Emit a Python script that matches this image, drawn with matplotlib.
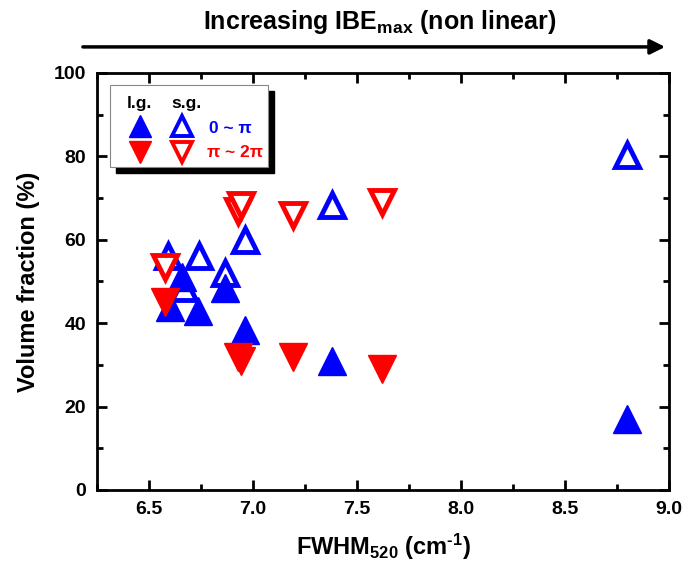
import matplotlib
matplotlib.use("Agg")
import matplotlib.pyplot as plt
from matplotlib.patches import Rectangle

plt.rcParams['font.family'] = ['Liberation Sans', 'DejaVu Sans']
plt.rcParams['font.weight'] = 'bold'
plt.rcParams['mathtext.fontset'] = 'custom'
plt.rcParams['mathtext.rm'] = 'Liberation Sans:bold'
plt.rcParams['mathtext.it'] = 'Liberation Sans:bold'
plt.rcParams['mathtext.bf'] = 'Liberation Sans:bold'
plt.rcParams['mathtext.default'] = 'rm'

# dati letti dal grafico
# blu, 0 ~ pi
lg_blu_x = [6.60, 6.66, 6.735, 6.865, 6.96, 7.38, 8.80]
lg_blu_y = [44.0, 51.0, 43.0, 48.4, 38.4, 31.0, 17.0]
sg_blu_x = [6.59, 6.67, 6.74, 6.865, 6.96, 7.38, 8.80]
sg_blu_y = [56.0, 48.5, 56.0, 52.0, 60.0, 68.3, 80.3]
# rosso, pi ~ 2pi
lg_rosso_x = [6.577, 6.93, 6.94, 7.19, 7.62]
lg_rosso_y = [45.0, 32.0, 31.0, 32.0, 29.0]
sg_rosso_x = [6.577, 6.93, 6.94, 7.19, 7.62]
sg_rosso_y = [53.5, 67.0, 68.3, 66.0, 69.0]

BLU = '#0000ff'
ROSSO = '#ff0000'

fig = plt.figure(figsize=(6.85, 5.72), dpi=100)
ax = fig.add_axes([0.1416, 0.1434, 0.8350, 0.7290])

# pieni (l.g.)
ax.plot(lg_blu_x, lg_blu_y, '^', ms=20, color=BLU, mec=BLU, ls='none', zorder=3)
ax.plot(lg_rosso_x, lg_rosso_y, 'v', ms=20, color=ROSSO, mec=ROSSO, ls='none', zorder=3)
# vuoti (s.g.)
ax.plot(sg_blu_x, sg_blu_y, '^', ms=17, mfc='white', mec=BLU, mew=3.5, ls='none', zorder=2)
ax.plot(sg_rosso_x, sg_rosso_y, 'v', ms=17, mfc='white', mec=ROSSO, mew=3.5, ls='none', zorder=2)

ax.set_xlim(6.25, 9.0)
ax.set_ylim(0, 100)
ax.set_xticks([6.5, 7.0, 7.5, 8.0, 8.5, 9.0])
ax.set_xticks([6.25, 6.75, 7.25, 7.75, 8.25, 8.75], minor=True)
ax.set_yticks([0, 20, 40, 60, 80, 100])
ax.set_yticks([10, 30, 50, 70, 90], minor=True)
ax.set_xticklabels(['6.5', '7.0', '7.5', '8.0', '8.5', '9.0'])
ax.tick_params(which='both', direction='in', top=True, right=True, width=2, labelsize=14, pad=8)
ax.tick_params(which='major', length=7)
ax.tick_params(which='minor', length=4)
for s in ax.spines.values():
    s.set_linewidth(2)

ax.set_xlabel('FWHM$_{520}$ (cm$^{\\text{-}1}$)', fontsize=17, fontweight='bold', labelpad=10)
ax.set_ylabel('Volume fraction (%)', fontsize=17, fontweight='bold', labelpad=10)

# legenda fatta a mano
ombra = Rectangle((0.034, 0.760), 0.276, 0.197, transform=ax.transAxes,
                  facecolor='black', edgecolor='black', zorder=4)
box = Rectangle((0.0227, 0.775), 0.276, 0.197, transform=ax.transAxes,
                facecolor='white', edgecolor='#888888', lw=0.8, zorder=5)
ax.add_patch(ombra)
ax.add_patch(box)
ax.text(0.075, 0.928, 'l.g.', transform=ax.transAxes, ha='center', va='center',
        fontsize=12.5, fontweight='bold', zorder=6)
ax.text(0.157, 0.928, 's.g.', transform=ax.transAxes, ha='center', va='center',
        fontsize=12.5, fontweight='bold', zorder=6)
ax.plot([0.075], [0.873], '^', ms=16, color=BLU, transform=ax.transAxes, zorder=6, clip_on=False)
ax.plot([0.149], [0.873], '^', ms=14, mfc='white', mec=BLU, mew=2.8, transform=ax.transAxes, zorder=6, clip_on=False)
ax.plot([0.075], [0.81], 'v', ms=16, color=ROSSO, transform=ax.transAxes, zorder=6, clip_on=False)
ax.plot([0.149], [0.81], 'v', ms=14, mfc='white', mec=ROSSO, mew=2.8, transform=ax.transAxes, zorder=6, clip_on=False)
ax.text(0.196, 0.868, '0 ~ π', transform=ax.transAxes, ha='left', va='center',
        fontsize=12.5, fontweight='bold', color=BLU, zorder=6)
ax.text(0.193, 0.81, 'π ~ 2π', transform=ax.transAxes, ha='left', va='center',
        fontsize=12.5, fontweight='bold', color=ROSSO, zorder=6)

# freccia e titolo in alto
fig.patches.append(matplotlib.patches.FancyArrowPatch(
    (0.117, 0.918), (0.975, 0.918), transform=fig.transFigure,
    arrowstyle='-|>', mutation_scale=22, lw=2.5, color='black'))
fig.text(0.555, 0.962, r'Increasing IBE$_{max}$ (non linear)', ha='center', va='center',
         fontsize=18, fontweight='bold')

fig.savefig('out.png', dpi=100)
